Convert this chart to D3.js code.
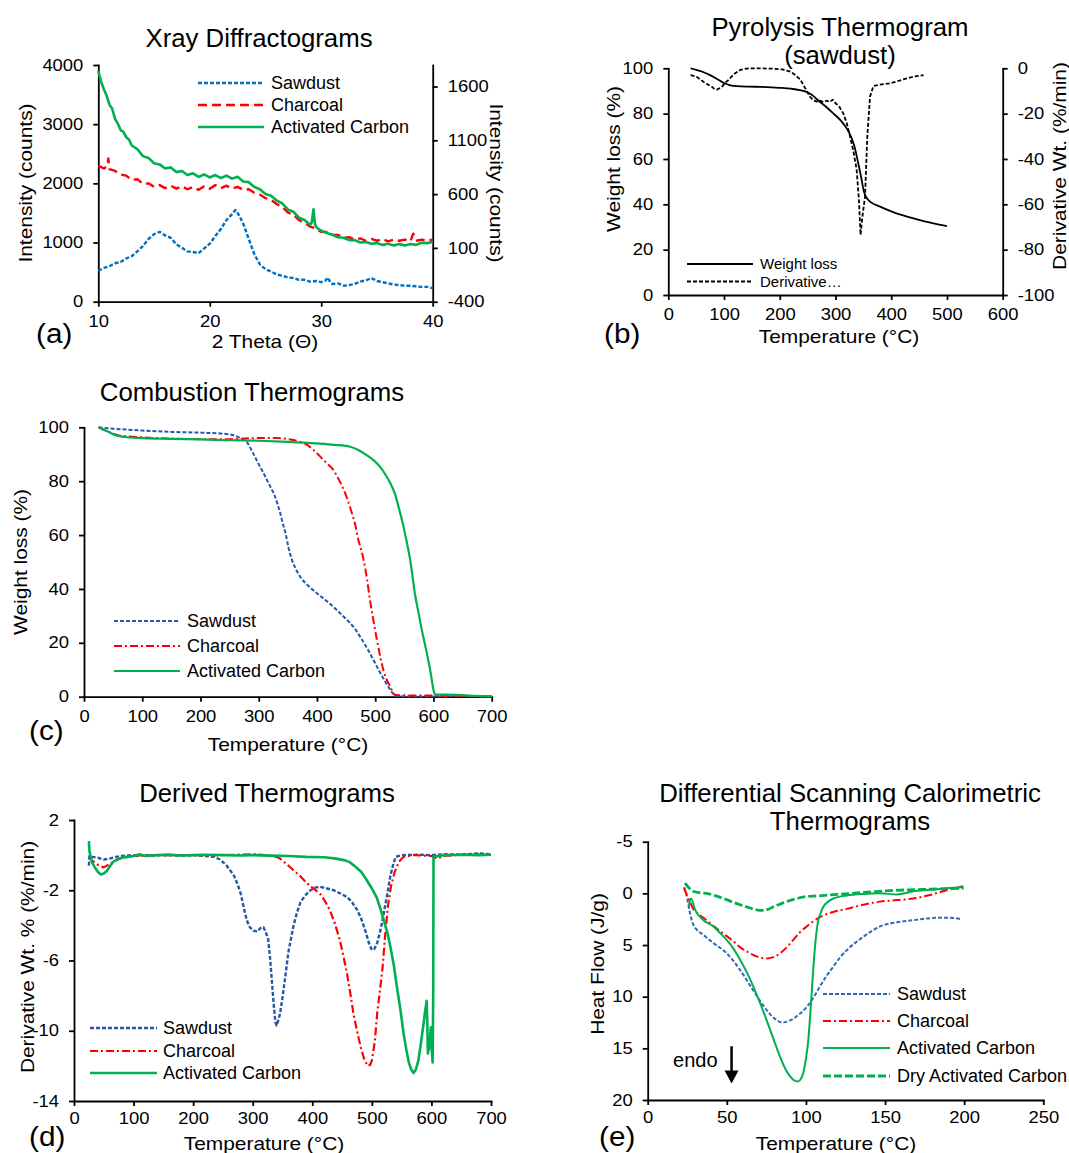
<!DOCTYPE html>
<html>
<head>
<meta charset="utf-8">
<script src="https://cdn.jsdelivr.net/npm/d3@7"></script>
<style>
  body { margin: 0; background: #fff; }
  svg { font-family: "Liberation Sans", Arial, sans-serif; }
  .axis path, .axis line { stroke: #000; stroke-width: 1.8; }
  .axis text { font-size: 16px; fill: #000; font-family: "Liberation Sans", Arial, sans-serif; }
  .ttl { font-size: 25px; }
  .lab { font-size: 19px; }
  .leg { font-size: 18px; }
  .tag { font-size: 27px; }
</style>
</head>
<body>
<svg id="fig" width="1069" height="1153"></svg>
<script>
// ---- (a) Xray diffractograms : [2 theta, counts]
const sawXrd = [[10,520],[10.5,570],[11,600],[11.5,650],[12,670],[12.5,730],[13,770],[13.5,850],[14,940],[14.5,1060],[15,1140],[15.5,1180],[16,1120],[16.5,1080],[17,970],[17.5,910],[18,850],[18.5,840],[19,820],[19.5,900],[20,980],[20.5,1110],[21,1230],[21.5,1380],[22,1480],[22.3,1550],[22.6,1470],[23,1320],[23.5,1060],[24,800],[24.5,630],[25,550],[25.5,510],[26,460],[26.5,440],[27,410],[27.5,400],[28,370],[28.5,370],[29,340],[29.5,350],[30,330],[30.4,360],[30.6,410],[30.8,330],[31,300],[31.5,310],[32,270],[32.5,280],[33,300],[33.5,340],[34,360],[34.5,400],[35,350],[35.5,330],[36,310],[36.5,290],[37,280],[37.5,270],[38,270],[38.5,260],[39,250],[39.5,250],[40,230]];
const charXrd = [[10,2300],[10.5,2250],[10.8,2290],[10.9,2420],[11,2240],[11.5,2210],[12,2150],[12.5,2130],[13,2060],[13.5,2070],[14,1990],[14.5,2000],[15,1940],[15.5,1970],[16,1920],[16.5,1960],[17,1910],[17.5,1950],[18,1900],[18.5,1940],[19,1890],[19.5,1950],[20,1910],[20.5,1970],[21,1920],[21.5,1960],[22,1910],[22.5,1940],[23,1890],[23.5,1900],[24,1840],[24.5,1810],[25,1750],[25.5,1720],[26,1650],[26.5,1600],[27,1510],[27.5,1470],[28,1380],[28.5,1330],[29,1270],[29.5,1240],[30,1180],[30.5,1180],[31,1130],[31.5,1130],[32,1080],[32.5,1090],[33,1050],[33.5,1070],[34,1030],[34.5,1060],[35,1030],[35.5,1060],[36,1020],[36.5,1050],[37,1030],[37.5,1050],[38,1020],[38.25,1150],[38.4,1100],[38.6,1030],[39,1050],[39.5,1030],[40,1050]];
const acXrd = [[10,3900],[10.25,3720],[10.5,3590],[10.75,3480],[11,3330],[11.25,3260],[11.5,3090],[11.75,3010],[12,2900],[12.25,2870],[12.5,2780],[12.75,2740],[13,2640],[13.5,2580],[14,2460],[14.5,2430],[15,2340],[15.5,2320],[16,2250],[16.5,2270],[17,2190],[17.5,2210],[18,2140],[18.5,2170],[19,2110],[19.5,2150],[20,2100],[20.5,2140],[21,2090],[21.5,2130],[22,2080],[22.5,2110],[23,2030],[23.5,2020],[24,1940],[24.5,1900],[25,1820],[25.5,1790],[26,1710],[26.5,1660],[27,1560],[27.5,1520],[28,1420],[28.5,1380],[29,1300],[29.15,1340],[29.3,1560],[29.45,1300],[29.6,1250],[30,1200],[30.5,1160],[31,1130],[31.5,1090],[32,1080],[32.5,1040],[33,1040],[33.5,1000],[34,1010],[34.5,980],[35,990],[35.5,960],[36,980],[36.5,950],[37,975],[37.5,950],[38,975],[38.5,960],[39,995],[39.5,990],[40,1010]];
const xrdXTicks = [10, 20, 30, 40];
const xrdYTicks = [0, 1000, 2000, 3000, 4000];
const xrdY2Ticks = [-400, 100, 600, 1100, 1600];

// ---- (b) pyrolysis thermogram : [T, value]
const pyroWeight = [[40,100],[60,98.6],[75,97],[88,95.2],[99,93.6],[110,92.6],[123,92.1],[145,91.9],[165,91.8],[200,91.4],[220,91],[236,90.4],[248,89.6],[258,88.2],[270,85.6],[285,82.6],[296,80.1],[310,76.8],[320,73.5],[328,69.8],[334,65.5],[340,59],[346,52],[351,45.6],[356,42.8],[362,41.2],[380,39],[400,36.9],[420,35.2],[440,33.8],[460,32.5],[480,31.4],[500,30.4]];
const pyroDeriv = [[40,-3],[50,-3.6],[58,-5],[63,-5.9],[70,-7],[78,-8.1],[82,-9],[87,-9.4],[91,-8.9],[96,-8.3],[102,-6.3],[106,-5.6],[112,-4],[120,-2.2],[129,-0.7],[140,-0.1],[160,0],[190,-0.2],[205,-0.5],[219,-1.5],[228,-3],[237,-5],[245,-8.5],[254,-12.5],[260,-14],[266,-14.7],[272,-14.2],[278,-14.9],[284,-14.3],[290,-14.8],[295,-13.8],[300,-15.4],[306,-16.6],[314,-19.9],[320,-24],[326,-30],[332,-36.5],[338,-44.8],[342,-58],[345,-73.5],[348,-66],[353,-56.6],[357,-30.2],[362,-12.5],[368,-7.8],[380,-7.2],[398,-6.6],[410,-5.8],[428,-4.4],[445,-3.5],[458,-3]];
const pyroXTicks = [0, 100, 200, 300, 400, 500, 600];
const pyroYTicks = [0, 20, 40, 60, 80, 100];
const pyroY2Ticks = [-100, -80, -60, -40, -20, 0];

// ---- (c) combustion thermograms : [T, weight %]
const sawTga = [[25,100],[50,99.5],[100,98.8],[150,98.3],[200,98],[240,97.6],[260,96.8],[270,95.8],[279,94.7],[290,90.5],[299,86.7],[307,83.5],[314,80.5],[321,77.5],[328,74.3],[333,71],[337,68.1],[341,64.5],[346,60.7],[351,55.5],[357,50.8],[364,47.3],[371,44.6],[385,41.2],[400,38.4],[415,35.8],[428,33.4],[443,30.3],[457,27.3],[466,25],[474,22.3],[482,19.5],[491,16.1],[500,12.4],[509,8.7],[518,5.3],[526,2.5],[532,0.8],[537,0.2],[560,0.1],[600,0.1],[650,0.2],[700,0.1]];
const charTga = [[25,100],[40,98.5],[60,97],[100,96.3],[150,95.8],[200,95.6],[250,95.6],[300,96],[330,96],[350,95.6],[365,95],[375,94.3],[383,93.5],[397,91],[411,87.9],[420,86],[428,84.2],[437,80.8],[446,76.8],[453,72.8],[460,68.1],[466,63.5],[471,58.2],[476,54.5],[480,50.8],[486,43.5],[491,35.9],[497,28.2],[503,21],[509,14.5],[514,9.9],[520,6.2],[526,3.7],[530,1.8],[534,0.6],[550,0.5],[600,0.4],[650,0.3],[700,0.2]];
const acTga = [[25,100],[40,98.5],[55,97],[70,96.4],[100,96],[150,95.7],[200,95.5],[250,95.2],[300,95],[350,94.6],[400,94],[430,93.5],[457,92.8],[472,91.5],[485,89.7],[497,87.8],[508,85.4],[518,82.3],[526,79.2],[534,75.2],[540,70.5],[546,65.5],[551,60.7],[556,55.5],[560,50.8],[564,44.8],[568,38.4],[574,31.5],[580,24.8],[586,18.8],[591,13.6],[596,7.8],[600,2.5],[603,0.8],[620,0.8],[640,0.7],[660,0.4],[700,0.2]];
const tgaXTicks = [0, 100, 200, 300, 400, 500, 600, 700];
const tgaYTicks = [0, 20, 40, 60, 80, 100];

// ---- (d) derived thermograms : [T, %/min]
const sawDtg = [[25,-0.6],[26,-0.05],[30,-0.1],[40,-0.15],[50,-0.25],[60,-0.2],[70,-0.1],[80,-0.05],[100,0],[120,-0.02],[150,0],[180,-0.03],[200,0],[220,-0.05],[235,-0.1],[245,-0.25],[255,-0.55],[262,-0.85],[269,-1.2],[275,-1.7],[280,-2.2],[285,-3],[290,-3.7],[295,-4.1],[301,-4.3],[308,-4.35],[313,-4.15],[318,-4.1],[322,-4.4],[326,-4.8],[329,-5.8],[332,-7.1],[335,-8.4],[338,-9.5],[340,-9.7],[343,-9.4],[346,-9.0],[350,-8.1],[354,-7.1],[360,-5.5],[368,-4.1],[374,-3.3],[380,-2.7],[388,-2.3],[397,-2.0],[405,-1.85],[413,-1.8],[425,-1.9],[436,-2.0],[448,-2.2],[459,-2.4],[467,-2.7],[475,-3.1],[482,-3.6],[489,-4.3],[495,-5.0],[500,-5.4],[504,-5.35],[509,-5.0],[515,-4.2],[520,-3.3],[526,-2.2],[531,-1.2],[536,-0.5],[540,-0.1],[550,0],[580,0.02],[600,0],[620,0.05],[650,0.03],[680,0.1],[700,0.05]];
const charDtg = [[25,-0.1],[30,-0.3],[40,-0.55],[50,-0.7],[60,-0.5],[70,-0.3],[80,-0.15],[100,-0.05],[150,0],[200,0],[250,0],[300,0.05],[320,0],[340,-0.1],[346,-0.2],[355,-0.45],[368,-0.85],[380,-1.2],[391,-1.6],[402,-1.9],[413,-2.2],[421,-2.6],[429,-3.1],[437,-3.8],[446,-4.8],[452,-5.7],[458,-6.7],[464,-7.9],[469,-9.0],[475,-10.0],[481,-10.9],[487,-11.6],[493,-12.0],[497,-11.95],[500,-11.7],[505,-10.6],[509,-9.0],[514,-7.6],[518,-6.4],[522,-4.7],[527,-2.9],[532,-1.8],[538,-1.0],[545,-0.4],[553,-0.1],[570,0],[600,-0.05],[610,-0.2],[620,-0.05],[650,0.02],[700,0.05]];
const acDtg = [[25,0.8],[26,0.2],[30,-0.4],[35,-0.7],[40,-0.95],[45,-1.1],[50,-1.05],[55,-0.9],[60,-0.65],[65,-0.4],[72,-0.25],[80,-0.15],[90,-0.1],[100,-0.05],[110,0.05],[120,-0.05],[140,0],[160,0.03],[180,-0.02],[200,0],[220,0.02],[250,0],[280,-0.02],[300,0],[330,-0.03],[360,-0.05],[390,-0.1],[420,-0.12],[440,-0.2],[455,-0.3],[463,-0.4],[472,-0.65],[482,-0.95],[491,-1.4],[500,-1.9],[508,-2.4],[514,-3.0],[520,-3.7],[526,-4.4],[531,-5.2],[537,-6.3],[542,-7.5],[548,-8.8],[553,-10.1],[558,-11.1],[562,-11.8],[566,-12.2],[570,-12.4],[574,-12.2],[578,-11.7],[582,-10.8],[586,-9.8],[589,-9.0],[592,-8.3],[593,-9.5],[594,-11.3],[596,-11.0],[598,-10.2],[599,-9.8],[600,-10.8],[602,-11.8],[603,-8],[603.5,-0.1],[620,0],[650,0.02],[680,0],[700,0.03]];
const dtgXTicks = [0, 100, 200, 300, 400, 500, 600, 700];
const dtgYTicks = [2, -2, -6, -10, -14];

// ---- (e) DSC thermograms : [T, J/g]
const sawDsc = [[23,-0.6],[25,0.5],[26.7,1.9],[28.5,2.9],[30.9,3.5],[35,4.0],[41.5,4.8],[49.9,5.8],[58.3,7.4],[66.7,9.4],[75.2,11.3],[80,12.1],[85,12.5],[90,12.3],[95,11.8],[100.5,11.0],[104.7,10.1],[108.9,9.0],[113,8.0],[117.3,7.1],[121.5,6.2],[125.8,5.5],[131,4.8],[136.3,4.2],[146.8,3.2],[157.4,2.8],[167.9,2.6],[178.5,2.4],[189,2.35],[198.5,2.5]];
const charDsc = [[23,-0.5],[26,0.6],[28.8,1.5],[33,2.1],[37.3,2.6],[42,3.2],[47.8,3.9],[53,4.5],[58.3,5.2],[63.5,5.7],[68.8,6.1],[75.2,6.3],[79,6.2],[83.6,5.8],[88,5.2],[92,4.5],[96,3.8],[100.5,3.2],[104.7,2.7],[108.9,2.3],[117.3,1.8],[125.8,1.5],[136.3,1.1],[146.8,0.8],[157.4,0.65],[167.9,0.5],[178.5,0.15],[189,-0.3],[199.6,-0.7]];
const acDsc = [[26,1.2],[27.4,0.5],[30,1.6],[35.2,2.6],[41.5,3.2],[45.5,3.8],[49.9,4.5],[54,5.3],[58.3,6.4],[62.5,7.6],[66.7,9.0],[71,10.6],[75.2,12.3],[79.5,14.1],[83.6,15.8],[87,17.0],[89.9,17.7],[92.5,18.1],[95.2,18.2],[97,17.9],[98.3,17.4],[100,16.0],[101.5,14.2],[102.6,12.0],[103.6,9.7],[104.6,7.4],[105.7,5.2],[106.7,3.7],[107.8,2.6],[109.3,1.9],[111,1.3],[114,0.8],[117.3,0.5],[125.8,0.2],[136.3,0.05],[146.8,0],[157.4,0.1],[167.9,-0.2],[178.5,-0.35],[189,-0.5],[199.6,-0.6]];
const dryAcDsc = [[23.6,-1.0],[26,-0.55],[28.8,-0.2],[33,-0.05],[37.3,0],[42,0.2],[47.8,0.5],[53,0.8],[58.3,1.1],[63.5,1.35],[68.8,1.6],[73,1.65],[76,1.55],[79.4,1.3],[83.5,1.05],[87.8,0.8],[94,0.5],[100.5,0.3],[107,0.25],[115.2,0.15],[125,0.05],[136.3,-0.1],[146.8,-0.2],[157.4,-0.3],[167.9,-0.35],[178.5,-0.4],[189,-0.45],[199.6,-0.5]];
const dscXTicks = [0, 50, 100, 150, 200, 250];
const dscYTicks = [-5, 0, 5, 10, 15, 20];
const endoArrow = {t: 53, from: 14.8, to: 18.4, labelT: 16, labelY: 16.8};

const BLUE_A = "#0070C0", BLUE = "#2659A5", BLUE_E = "#2E6DB5", RED = "#FF0000", GREEN = "#00B050";
const DASH_SHORT = "4,2", DASH_LONG = "9,5", DASH_DOT = "8,3,2,3";

const svg = d3.select('#fig');

function txt(g, s, x, y, cls, anchor, rot) {
  const t = g.append('text').attr('class', cls).text(s)
    .attr('text-anchor', anchor || 'middle');
  if (rot) {
    t.attr('transform', 'translate(' + x + ',' + y + ') rotate(' + rot + ')').attr('dy', '0.35em');
  } else {
    t.attr('x', x).attr('y', y);
  }
  return t;
}

// the source figure's lettering is a bit wider than Arial
function stretch(sel, k) {
  sel.each(function() {
    const len = this.getComputedTextLength();
    d3.select(this).attr('textLength', len * k).attr('lengthAdjust', 'spacingAndGlyphs');
  });
}

function panel(p) {
  const g = svg.append('g');
  const x = d3.scaleLinear().domain(p.xDomain).range([p.left, p.right]);
  const y = d3.scaleLinear().domain(p.yDomain).range([p.bottom, p.top]);
  const fmt = d => String(d);

  g.append('g').attr('class', 'axis')
    .attr('transform', 'translate(0,' + p.bottom + ')')
    .call(d3.axisBottom(x).tickValues(p.xTicks).tickSize(5).tickSizeOuter(0).tickPadding(p.xPad || 9).tickFormat(fmt));
  g.append('g').attr('class', 'axis')
    .attr('transform', 'translate(' + p.left + ',0)')
    .call(d3.axisLeft(y).tickValues(p.yTicks).tickSize(5).tickSizeOuter(0).tickPadding(10).tickFormat(fmt));

  let y2 = null;
  if (p.y2Domain) {
    y2 = d3.scaleLinear().domain(p.y2Domain).range([p.bottom, p.top]);
    g.append('g').attr('class', 'axis')
      .attr('transform', 'translate(' + p.right + ',0)')
      .call(d3.axisRight(y2).tickValues(p.y2Ticks).tickSize(5).tickSizeOuter(0).tickPadding(10).tickFormat(fmt));
  }
  g.selectAll('.axis .domain').attr('stroke-linecap', 'square');

  p.series.forEach(s => {
    const ys = s.right ? y2 : y;
    const line = d3.line()
      .x(d => x(d[0]))
      .y(d => ys(d[1]))
      .curve(s.smooth ? d3.curveMonotoneX : d3.curveLinear);
    g.append('path').datum(s.data)
      .attr('d', line)
      .attr('fill', 'none')
      .attr('stroke', s.color)
      .attr('stroke-width', s.width || 2)
      .attr('stroke-dasharray', s.dash || null)
      .attr('stroke-linejoin', 'round');
  });

  // legend
  const L = p.legend;
  p.series.forEach((s, i) => {
    g.append('line')
      .attr('x1', L.x1).attr('x2', L.x2).attr('y1', L.ys[i]).attr('y2', L.ys[i])
      .attr('stroke', s.color).attr('stroke-width', s.width || 2)
      .attr('stroke-dasharray', s.dash || null);
    txt(g, s.label, L.tx, L.ys[i], L.cls || 'leg', 'start').attr('dy', '0.35em');
  });

  p.titles.forEach(t => txt(g, t[0], t[1], t[2], 'ttl'));
  txt(g, p.xLabel[0], p.xLabel[1], p.xLabel[2], 'lab');
  txt(g, p.yLabel[0], p.yLabel[1], p.yLabel[2], 'lab', 'middle', -90);
  if (p.y2Label) txt(g, p.y2Label[0], p.y2Label[1], p.y2Label[2], 'lab', 'middle', p.y2Label[3]);
  txt(g, p.tag[0], p.tag[1], p.tag[2], 'tag', 'start');
  return {g, x, y};
}

// (a)
panel({
  left: 98.3, right: 432.7, top: 65, bottom: 301.7,
  xDomain: [10, 40], yDomain: [0, 4000], xTicks: xrdXTicks, yTicks: xrdYTicks,
  y2Domain: [-400, 1800], y2Ticks: xrdY2Ticks,
  series: [
    {data: sawXrd, color: BLUE_A, dash: DASH_SHORT, width: 2.4, label: 'Sawdust'},
    {data: charXrd, color: RED, dash: DASH_LONG, width: 2.4, label: 'Charcoal'},
    {data: acXrd, color: GREEN, width: 2.6, label: 'Activated Carbon'}
  ],
  legend: {x1: 198, x2: 264, tx: 271, ys: [83, 105, 127]},
  titles: [['Xray Diffractograms', 259, 47]],
  xLabel: ['2 Theta (\u0398)', 265, 348],
  yLabel: ['Intensity (counts)', 25, 183],
  y2Label: ['Intensity (counts)', 497, 183, 90],
  tag: ['(a)', 36, 343]
});

// (b)
panel({
  left: 668.3, right: 1002.7, top: 68.3, bottom: 295,
  xDomain: [0, 600], yDomain: [0, 100], xTicks: pyroXTicks, yTicks: pyroYTicks,
  y2Domain: [-100, 0], y2Ticks: pyroY2Ticks,
  series: [
    {data: pyroWeight, color: '#000', width: 1.8, smooth: true, label: 'Weight loss'},
    {data: pyroDeriv, color: '#000', width: 1.8, dash: DASH_SHORT, right: true, label: 'Derivative\u2026'}
  ],
  legend: {x1: 687, x2: 753, tx: 760, ys: [264, 281.5], cls: 'leg small'},
  titles: [['Pyrolysis Thermogram', 840, 36], ['(sawdust)', 840, 64]],
  xLabel: ['Temperature (\u00B0C)', 839, 343],
  yLabel: ['Weight loss (%)', 613, 159],
  y2Label: ['Derivative Wt. (%/min)', 1059, 166, -90],
  tag: ['(b)', 604, 343]
});
d3.selectAll('.small').style('font-size', '15px');

// (c)
panel({
  left: 84, right: 491.7, top: 427.3, bottom: 696.7,
  xDomain: [0, 700], yDomain: [0, 100], xTicks: tgaXTicks, yTicks: tgaYTicks,
  series: [
    {data: sawTga, color: BLUE, dash: DASH_SHORT, width: 2, smooth: true, label: 'Sawdust'},
    {data: charTga, color: RED, dash: DASH_DOT, width: 2, smooth: true, label: 'Charcoal'},
    {data: acTga, color: GREEN, width: 2.2, smooth: true, label: 'Activated Carbon'}
  ],
  legend: {x1: 114, x2: 180, tx: 187, ys: [621, 646, 671]},
  titles: [['Combustion Thermograms', 252, 401]],
  xLabel: ['Temperature (\u00B0C)', 288, 751],
  yLabel: ['Weight loss (%)', 20, 562],
  tag: ['(c)', 29, 740]
});

// (d)
panel({
  left: 74, right: 491, top: 820, bottom: 1101,
  xDomain: [0, 700], yDomain: [-14, 2], xTicks: dtgXTicks, yTicks: dtgYTicks, xPad: 7,
  series: [
    {data: sawDtg, color: BLUE, dash: DASH_SHORT, width: 2.4, label: 'Sawdust'},
    {data: charDtg, color: RED, dash: DASH_DOT, width: 2.2, label: 'Charcoal'},
    {data: acDtg, color: GREEN, width: 2.6, label: 'Activated Carbon'}
  ],
  legend: {x1: 90, x2: 157, tx: 163, ys: [1028, 1051, 1073]},
  titles: [['Derived Thermograms', 267, 802]],
  xLabel: ['Temperature (\u00B0C)', 264, 1150],
  yLabel: ['Derivative Wt. % (%/min)', 27, 957],
  tag: ['(d)', 29, 1146]
});

// (e)
const pe = panel({
  left: 647.7, right: 1043.3, top: 841.7, bottom: 1100,
  xDomain: [0, 250], yDomain: [20, -5], xTicks: dscXTicks, yTicks: dscYTicks, xPad: 7,
  series: [
    {data: sawDsc, color: BLUE_E, dash: DASH_SHORT, width: 2, smooth: true, label: 'Sawdust'},
    {data: charDsc, color: RED, dash: DASH_DOT, width: 2, smooth: true, label: 'Charcoal'},
    {data: acDsc, color: GREEN, width: 2, smooth: true, label: 'Activated Carbon'},
    {data: dryAcDsc, color: GREEN, dash: '8,3', width: 2.8, smooth: true, label: 'Dry Activated Carbon'}
  ],
  legend: {x1: 823, x2: 890, tx: 897, ys: [994, 1021, 1048, 1076]},
  titles: [['Differential Scanning Calorimetric', 850, 802], ['Thermograms', 850, 830]],
  xLabel: ['Temperature (\u00B0C)', 836, 1150],
  yLabel: ['Heat Flow (J/g)', 597, 964],
  tag: ['(e)', 599, 1146]
});

// endo arrow
const ax = pe.x(endoArrow.t), ay1 = pe.y(endoArrow.from), ay2 = pe.y(endoArrow.to);
pe.g.append('line').attr('x1', ax).attr('x2', ax).attr('y1', ay1).attr('y2', ay2 - 10)
  .attr('stroke', '#000').attr('stroke-width', 2.5);
pe.g.append('path')
  .attr('d', 'M' + (ax - 7) + ',' + (ay2 - 13) + 'L' + (ax + 7) + ',' + (ay2 - 13) + 'L' + ax + ',' + ay2 + 'Z')
  .attr('fill', '#000');
pe.g.append('text').attr('x', pe.x(endoArrow.labelT)).attr('y', pe.y(endoArrow.labelY))
  .style('font-size', '20px').text('endo');

stretch(svg.selectAll('.axis text'), 1.15);
stretch(svg.selectAll('text.lab'), 1.1);
stretch(svg.selectAll('text.ttl'), 1.03);
stretch(svg.selectAll('text.tag'), 1.1);
</script>
</body>
</html>
